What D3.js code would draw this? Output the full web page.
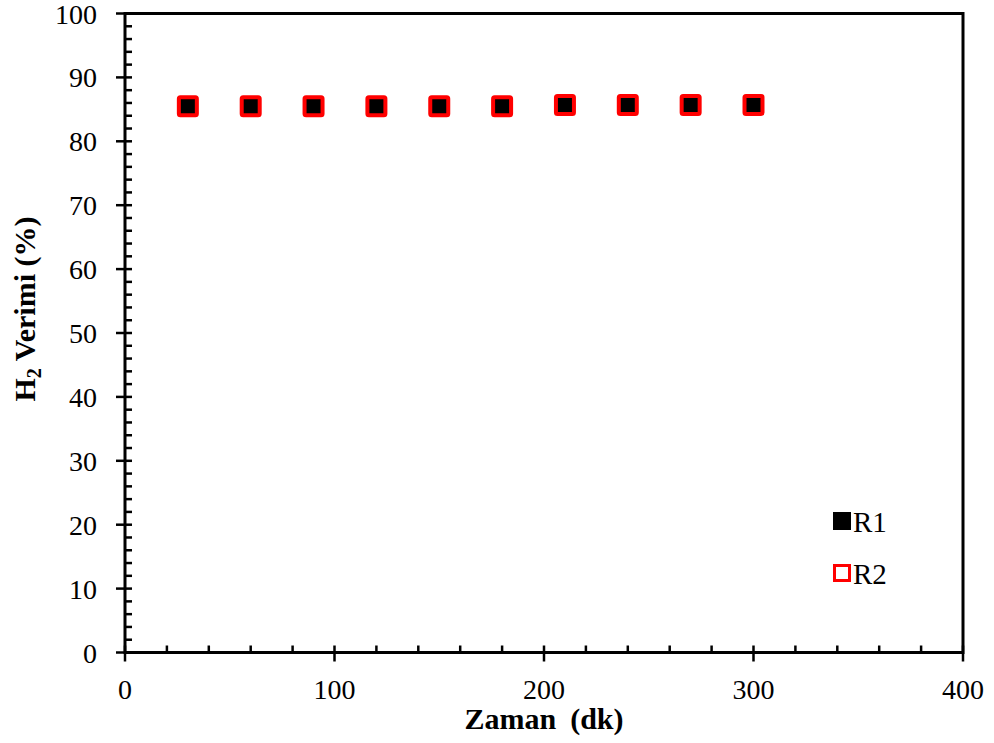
<!DOCTYPE html>
<html>
<head>
<meta charset="utf-8">
<script src="https://cdn.jsdelivr.net/npm/d3@7"></script>
<style>
  html, body { margin: 0; padding: 0; background: #fff; }
  svg { display: block; }
  text { font-family: "Liberation Serif", "Times New Roman", serif; fill: #000; }
</style>
</head>
<body>
<svg id="chart" width="994" height="743"></svg>
<script>
// Sampling times (min) and H2 yield (%) for the two reactors
const times = [30, 60, 90, 120, 150, 180, 210, 240, 270, 300];
const r1 = [85.5, 85.5, 85.5, 85.5, 85.5, 85.5, 85.7, 85.7, 85.7, 85.7];
const r2 = [85.5, 85.5, 85.5, 85.5, 85.5, 85.5, 85.7, 85.7, 85.7, 85.7];
const xTicks = [0, 100, 200, 300, 400];
const yTicks = [0, 10, 20, 30, 40, 50, 60, 70, 80, 90, 100];
const seriesNames = ["R1", "R2"];

const svg = d3.select("#chart");
const L = 125, R = 963, T = 13.5, B = 652.5;

const x = d3.scaleLinear().domain([0, 400]).range([L, R]);
const y = d3.scaleLinear().domain([0, 100]).range([B, T]);

const axisW = 3;

// Minor ticks (inward)
const gTicks = svg.append("g").attr("stroke", "#000").attr("stroke-width", 2.5);
d3.range(0, 401, 20).filter(v => v % 100 !== 0).forEach(v => {
  gTicks.append("line").attr("x1", x(v)).attr("x2", x(v)).attr("y1", B).attr("y2", B - 7);
});
d3.range(0, 101, 2).filter(v => v % 10 !== 0).forEach(v => {
  gTicks.append("line").attr("x1", L).attr("x2", L + 7).attr("y1", y(v)).attr("y2", y(v));
});
// Major ticks (cross the axis)
xTicks.forEach(v => {
  gTicks.append("line").attr("x1", x(v)).attr("x2", x(v)).attr("y1", B - 7).attr("y2", B + 9);
});
yTicks.forEach(v => {
  gTicks.append("line").attr("x1", L - 9).attr("x2", L + 7).attr("y1", y(v)).attr("y2", y(v));
});

// Frame
svg.append("rect")
  .attr("x", L).attr("y", T)
  .attr("width", R - L).attr("height", B - T)
  .attr("fill", "none").attr("stroke", "#000").attr("stroke-width", axisW);

// Tick labels
svg.append("g").selectAll("text").data(xTicks).join("text")
  .attr("x", d => x(d)).attr("y", 699)
  .attr("text-anchor", "middle")
  .attr("font-size", 28)
  .text(d => d);

svg.append("g").selectAll("text").data(yTicks).join("text")
  .attr("x", 97).attr("y", d => y(d) + 10)
  .attr("text-anchor", "end")
  .attr("font-size", 28)
  .text(d => d);

// Axis titles
const xt = svg.append("text")
  .attr("x", 544).attr("y", 729)
  .attr("text-anchor", "middle")
  .attr("font-size", 30).attr("font-weight", "bold");
xt.append("tspan").text("Zaman");
xt.append("tspan").attr("dx", 14).text("(dk)");

const yt = svg.append("text")
  .attr("transform", "translate(35, 309) rotate(-90)")
  .attr("text-anchor", "middle")
  .attr("font-size", 30).attr("font-weight", "bold");
yt.append("tspan").text("H");
yt.append("tspan").attr("font-size", 20).attr("dy", 6).text("2");
yt.append("tspan").attr("dy", -6).text(" Verimi (%)");

// Markers: R1 filled black, R2 open red drawn over it
const s = 18;
svg.append("g").selectAll("rect").data(times.map((t, i) => [t, r1[i]])).join("rect")
  .attr("x", d => x(d[0]) - s / 2).attr("y", d => y(d[1]) - s / 2)
  .attr("width", s).attr("height", s)
  .attr("fill", "#000");

svg.append("g").selectAll("rect").data(times.map((t, i) => [t, r2[i]])).join("rect")
  .attr("x", d => x(d[0]) - s / 2).attr("y", d => y(d[1]) - s / 2)
  .attr("width", s).attr("height", s).attr("rx", 1.5)
  .attr("fill", "none").attr("stroke", "#ff0000").attr("stroke-width", 4);

// Legend
const leg = svg.append("g");
seriesNames.forEach((name, i) => {
  const cy = 521 + i * 52;
  if (i === 0) {
    leg.append("rect").attr("x", 833).attr("y", cy - 9).attr("width", 18).attr("height", 18).attr("fill", "#000");
  } else {
    leg.append("rect").attr("x", 834.5).attr("y", cy - 7.5).attr("width", 15).attr("height", 15)
      .attr("fill", "none").attr("stroke", "#ff0000").attr("stroke-width", 3);
  }
  leg.append("text").attr("x", 853).attr("y", cy + 11).attr("font-size", 29).text(name);
});
</script>
</body>
</html>
